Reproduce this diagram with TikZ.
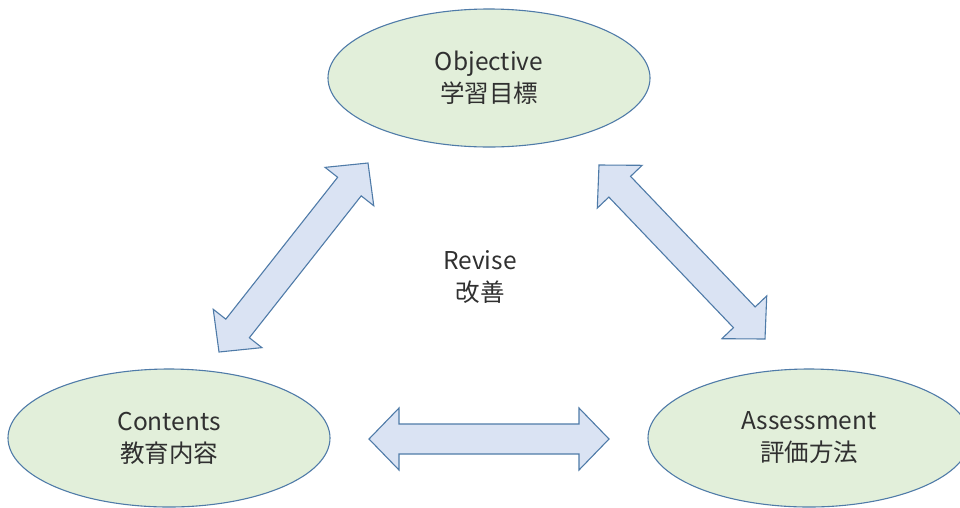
\documentclass[tikz,border=0pt]{standalone}
\usepackage{fontspec}
\setmainfont{Noto Sans CJK JP}
\usetikzlibrary{shapes.geometric,calc}

\definecolor{edgeblue}{HTML}{4F7BA8}
\definecolor{ovalfill}{HTML}{E2EFDA}
\definecolor{arrowfill}{HTML}{DAE3F3}
\definecolor{inkgray}{HTML}{303030}

\tikzset{
  oval/.style={ellipse, draw=edgeblue, fill=ovalfill, line width=1.1pt,
    minimum width=322pt, minimum height=138pt, inner sep=0pt,
    align=center, text=inkgray, font=\fontsize{24.5}{32}\selectfont},
  label text/.style={align=center, text=inkgray, font=\fontsize{24.5}{32}\selectfont},
  arrowbox/.style={draw=edgeblue, fill=arrowfill, line width=1.1pt, line join=miter}
}

% block double arrow between two named coordinates:
% head length 30pt, head half-width 31pt, shaft half-width 15pt
\newcommand\blockarrow[2]{%
  \draw[arrowbox] (#1)
    -- ($($(#1)!30pt!(#2)$)!31pt!90:(#2)$)
    -- ($($(#1)!30pt!(#2)$)!15pt!90:(#2)$)
    -- ($($(#2)!30pt!(#1)$)!15pt!-90:(#1)$)
    -- ($($(#2)!30pt!(#1)$)!31pt!-90:(#1)$)
    -- (#2)
    -- ($($(#2)!30pt!(#1)$)!31pt!90:(#1)$)
    -- ($($(#2)!30pt!(#1)$)!15pt!90:(#1)$)
    -- ($($(#1)!30pt!(#2)$)!15pt!-90:(#2)$)
    -- ($($(#1)!30pt!(#2)$)!31pt!-90:(#2)$)
    -- cycle;}

\begin{document}
\begin{tikzpicture}[x=1pt,y=-1pt]
  \useasboundingbox (0,0) rectangle (960,507);
  \clip (0,0) rectangle (960,507);

  % the three stages of the cycle
  \node[oval] (obj)    at (489,78)  {Objective\\学習目標};
  \node[oval] (cont)   at (169,438) {Contents\\教育内容};
  \node[oval] (assess) at (809,438) {Assessment\\評価方法};

  \node[label text] (rev) at (480,277) {Revise\\改善};

  % arrow end points
  \coordinate (l1) at (219,352);
  \coordinate (l2) at (368,163);
  \coordinate (r1) at (599,165);
  \coordinate (r2) at (765,339);
  \coordinate (h1) at (369,439);
  \coordinate (h2) at (609,439);

  \blockarrow{l1}{l2}
  \blockarrow{r1}{r2}
  \blockarrow{h1}{h2}
\end{tikzpicture}
\end{document}
